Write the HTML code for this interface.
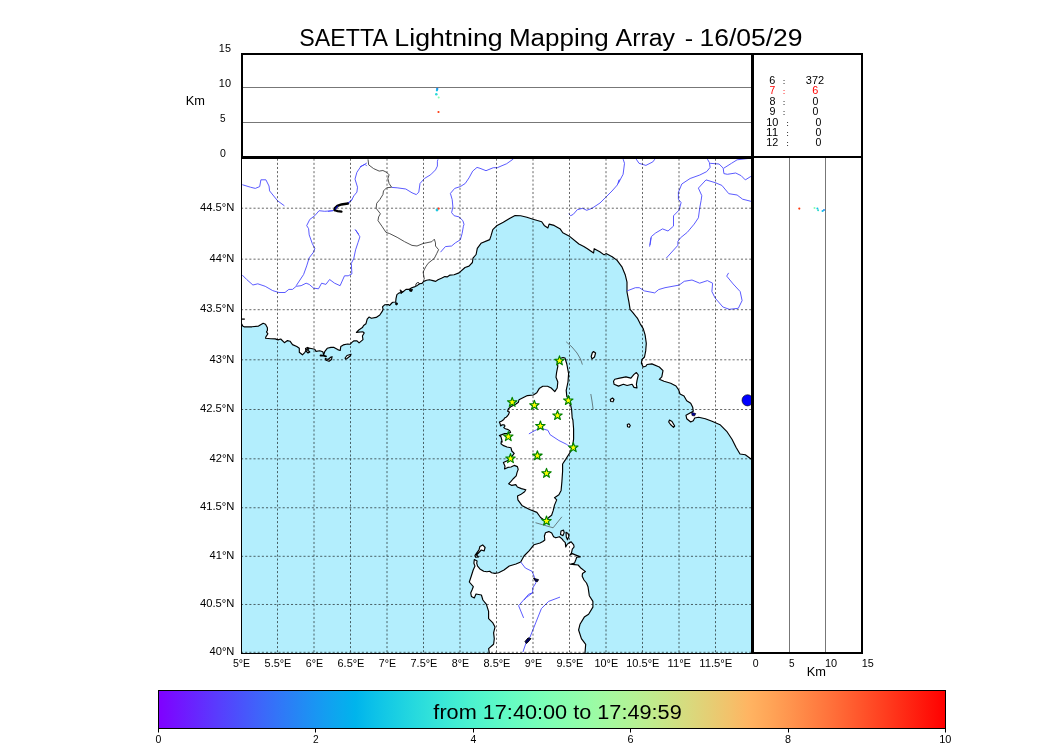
<!DOCTYPE html>
<html><head><meta charset="utf-8"><title>SAETTA Lightning Mapping Array</title>
<style>html,body{margin:0;padding:0;background:#fff;width:1050px;height:750px;overflow:hidden;font-family:"Liberation Sans", sans-serif}</style>
</head><body>
<svg width="1050" height="750" viewBox="0 0 1050 750" style="position:absolute;left:0;top:0;will-change:transform"><defs><linearGradient id="cb" x1="0" x2="1" y1="0" y2="0"><stop offset="0.000" stop-color="#8000ff"/><stop offset="0.025" stop-color="#7314ff"/><stop offset="0.050" stop-color="#6628fe"/><stop offset="0.075" stop-color="#593cfd"/><stop offset="0.100" stop-color="#4c4ffc"/><stop offset="0.125" stop-color="#4062fa"/><stop offset="0.150" stop-color="#3374f8"/><stop offset="0.175" stop-color="#2685f5"/><stop offset="0.200" stop-color="#1996f3"/><stop offset="0.225" stop-color="#0da6ef"/><stop offset="0.250" stop-color="#00b4ec"/><stop offset="0.275" stop-color="#0dc2e8"/><stop offset="0.300" stop-color="#19cee3"/><stop offset="0.325" stop-color="#26d9de"/><stop offset="0.350" stop-color="#33e3d9"/><stop offset="0.375" stop-color="#40ecd4"/><stop offset="0.400" stop-color="#4df3ce"/><stop offset="0.425" stop-color="#59f8c8"/><stop offset="0.450" stop-color="#66fcc2"/><stop offset="0.475" stop-color="#73febb"/><stop offset="0.500" stop-color="#80ffb4"/><stop offset="0.525" stop-color="#8cfead"/><stop offset="0.550" stop-color="#99fca6"/><stop offset="0.575" stop-color="#a6f89e"/><stop offset="0.600" stop-color="#b2f396"/><stop offset="0.625" stop-color="#bfec8e"/><stop offset="0.650" stop-color="#cce385"/><stop offset="0.675" stop-color="#d9d97d"/><stop offset="0.700" stop-color="#e5ce74"/><stop offset="0.725" stop-color="#f2c26b"/><stop offset="0.750" stop-color="#ffb462"/><stop offset="0.775" stop-color="#ffa658"/><stop offset="0.800" stop-color="#ff964f"/><stop offset="0.825" stop-color="#ff8545"/><stop offset="0.850" stop-color="#ff743c"/><stop offset="0.875" stop-color="#ff6232"/><stop offset="0.900" stop-color="#ff4f28"/><stop offset="0.925" stop-color="#ff3c1e"/><stop offset="0.950" stop-color="#ff2814"/><stop offset="0.975" stop-color="#ff140a"/><stop offset="1.000" stop-color="#ff0000"/></linearGradient><clipPath id="mc"><rect x="242" y="158" width="509" height="495"/></clipPath></defs><g clip-path="url(#mc)"><rect x="241" y="157" width="511" height="497" fill="#b3eefd"/><polygon points="241.0,324.0 241.7,324.0 242.7,326.1 244.1,326.8 252.0,326.8 258.5,326.1 263.2,323.3 265.5,324.2 267.4,327.7 267.4,330.5 266.5,331.9 267.9,333.8 266.0,336.6 265.5,338.2 270.7,338.7 275.3,338.9 278.0,339.9 280.7,339.0 284.4,342.7 287.5,340.6 290.0,341.2 292.5,344.6 296.8,346.5 299.3,348.3 299.3,352.3 302.4,354.8 304.9,352.3 306.7,349.2 308.6,348.0 314.8,349.2 316.0,351.4 319.7,350.8 322.8,351.7 323.7,354.8 324.7,351.7 327.2,348.3 330.9,347.4 334.0,347.4 337.7,349.6 340.2,350.5 340.8,346.5 343.3,344.9 347.6,344.0 350.1,344.3 351.9,342.4 354.0,340.8 357.0,340.8 359.1,342.9 363.0,339.6 362.4,336.0 364.2,333.0 363.0,331.8 356.4,332.4 358.8,330.0 362.4,327.6 363.6,325.5 366.0,323.7 367.2,319.2 369.0,317.1 371.4,318.3 376.2,317.4 379.8,315.0 382.2,311.4 383.1,309.3 382.5,306.9 384.6,304.8 388.2,304.5 389.7,305.4 391.8,303.0 392.9,302.3 395.7,302.0 396.0,298.6 396.9,294.6 399.1,292.9 401.4,292.9 403.1,291.7 406.0,289.4 408.9,289.4 411.7,287.7 415.1,286.6 417.4,285.4 419.7,283.7 422.0,283.4 423.7,281.4 426.6,280.3 429.4,279.7 432.9,280.6 435.7,281.4 438.0,279.7 441.4,278.3 444.9,276.6 447.1,276.9 450.0,275.1 454.1,274.8 459.0,272.9 465.0,267.5 469.0,266.1 472.4,262.5 473.0,258.2 476.1,254.5 477.3,248.3 481.0,243.3 489.7,239.6 491.0,235.9 492.8,229.7 497.1,225.4 503.3,222.3 509.5,218.6 515.1,215.5 520.7,215.8 526.9,217.3 533.0,219.2 541.7,221.7 544.2,225.4 547.9,227.9 549.1,224.1 554.1,225.4 560.3,229.1 562.8,232.8 569.0,235.9 578.9,244.0 583.8,246.4 587.4,248.7 593.6,253.0 594.2,248.7 599.8,251.8 604.1,254.9 606.0,253.6 612.2,256.7 617.1,260.4 622.1,267.2 625.2,274.7 627.0,282.1 627.0,292.0 628.9,301.9 630.1,309.3 633.3,313.1 637.7,318.7 640.1,323.6 643.2,328.6 645.1,334.8 646.3,343.4 645.7,350.9 644.5,357.0 642.0,359.5 641.4,363.2 643.2,367.0 645.7,366.3 647.0,364.5 651.9,363.9 659.3,367.0 663.0,370.7 661.8,376.9 659.3,379.3 664.0,381.3 670.7,383.3 676.0,386.0 678.7,390.0 680.0,394.0 684.0,396.0 686.7,400.7 690.7,403.3 692.7,407.3 693.3,411.3 690.0,413.0 686.0,415.3 686.7,418.7 690.7,422.0 693.3,420.7 694.7,418.0 698.7,417.3 705.3,418.7 712.0,421.3 720.0,424.7 726.7,431.3 732.0,439.3 736.0,447.3 740.0,454.0 745.3,454.7 750.7,458.7 752.0,460.0 752.0,157.0 241.0,157.0" fill="#fff"/><polygon points="565.0,358.0 566.8,364.0 568.6,373.6 568.0,382.0 566.2,390.4 566.8,396.4 569.8,401.2 571.6,409.6 572.2,418.0 572.9,420.0 573.6,428.8 573.6,439.1 572.1,449.3 569.2,453.7 565.5,459.6 562.6,464.0 562.6,471.3 561.9,481.6 561.1,490.4 558.9,494.8 554.5,497.7 556.7,499.9 554.5,505.1 553.1,510.9 551.6,515.3 548.7,517.5 545.7,521.2 540.6,517.5 536.9,512.4 529.6,509.5 522.3,505.8 517.9,499.9 517.5,496.0 520.6,494.6 524.6,491.8 525.8,489.8 521.4,488.6 517.4,487.0 515.8,484.6 511.8,485.4 508.6,483.8 511.0,481.4 513.0,479.0 516.2,475.8 517.0,472.6 518.2,469.4 517.4,466.6 514.2,465.4 511.0,467.0 507.8,467.4 504.6,469.0 505.0,466.2 503.4,462.6 507.8,460.6 510.6,458.2 514.2,453.4 511.8,451.0 511.0,447.8 507.0,447.0 503.0,445.4 501.0,443.8 501.4,441.0 502.2,442.0 501.8,440.0 501.0,436.8 499.4,435.6 504.6,433.6 507.5,433.5 510.6,432.4 509.8,430.8 508.2,429.6 505.4,428.8 503.8,427.6 505.0,426.0 504.2,424.8 502.2,424.8 500.6,426.0 500.2,424.0 499.4,422.0 501.4,421.2 503.8,419.6 504.6,418.0 506.2,417.2 507.4,416.0 508.6,414.4 509.4,412.0 507.6,411.2 508.5,408.8 511.2,406.4 516.0,404.0 518.4,402.2 519.0,399.8 524.4,397.1 527.4,395.6 533.4,395.0 536.8,392.8 539.2,388.6 542.8,386.2 547.6,386.2 551.2,388.0 554.8,391.6 557.2,388.0 557.8,382.0 556.0,377.2 556.6,372.4 557.8,366.4 557.2,361.6 560.0,358.5 563.0,357.5" fill="#fff" stroke="#000" stroke-width="1.15" stroke-linejoin="round"/><polygon points="489.3,653.5 489.3,652.9 488.6,648.6 493.6,644.3 494.3,638.6 493.6,632.9 495.0,627.1 492.9,622.9 488.6,618.6 488.6,611.4 486.4,604.3 482.9,600.0 481.4,595.0 476.0,594.0 474.3,597.9 471.4,596.4 470.7,592.9 472.0,590.0 473.3,586.7 469.3,582.0 471.3,576.0 473.2,570.0 475.0,566.1 473.9,563.3 474.3,559.6 477.1,561.0 476.7,563.3 477.6,566.1 479.9,568.9 483.7,571.3 486.9,571.7 489.7,571.3 491.6,572.7 494.9,573.4 498.6,572.7 504.0,570.0 509.3,566.0 516.0,564.0 520.7,562.0 524.0,556.0 529.3,550.7 534.0,544.7 540.0,543.0 542.9,541.5 544.8,540.0 544.4,536.0 545.5,532.7 548.8,531.6 551.7,533.1 553.6,536.7 555.8,537.8 559.4,536.7 562.0,538.9 563.5,540.8 565.3,542.6 565.7,547.0 567.1,544.4 569.3,542.6 571.2,541.9 573.7,544.8 574.1,547.0 572.3,549.2 571.5,552.9 570.1,555.1 572.3,553.6 575.9,555.1 580.3,556.9 576.7,557.3 575.9,559.5 574.5,563.1 570.1,564.2 574.5,564.6 578.1,565.0 581.1,568.3 585.5,571.6 582.5,573.4 582.2,576.3 584.0,580.0 586.5,583.0 588.0,586.7 589.3,595.7 592.9,601.4 592.9,607.1 588.6,614.3 584.3,617.1 580.0,624.3 578.6,630.0 581.4,638.6 585.7,644.3 585.0,652.9 585.0,653.5" fill="#fff" stroke="#000" stroke-width="1.15" stroke-linejoin="round"/><polygon points="479.9,546.5 482.7,544.9 485.1,547.5 484.1,551.0 481.3,550.0 476.5,555.0 478.5,557.0 475.7,557.3 475.0,555.4 479.0,549.8" fill="#fff" stroke="#000" stroke-width="1.15" stroke-linejoin="round"/><polygon points="614.8,379.3 619.7,378.1 625.9,376.9 630.9,378.1 634.0,374.4 636.4,372.5 638.3,375.0 637.0,380.6 636.4,384.3 637.0,388.0 634.0,387.4 632.1,384.3 627.1,385.5 623.4,384.3 618.5,386.1 614.1,384.3 613.5,381.2" fill="#fff" stroke="#000" stroke-width="1.15" stroke-linejoin="round"/><polygon points="593.5,351.5 595.6,353.0 594.5,357.0 592.0,358.9 591.2,356.5 592.2,353.0" fill="#fff" stroke="#000" stroke-width="1.15" stroke-linejoin="round"/><polygon points="669.5,420.0 672.0,421.5 674.7,426.0 673.5,427.3 670.5,424.5 668.7,422.0" fill="#fff" stroke="#000" stroke-width="1.15" stroke-linejoin="round"/><polygon points="325.3,358.5 328.0,359.5 331.0,357.0 332.1,356.7 331.5,359.5 329.0,361.3 326.0,360.3" fill="#fff" stroke="#000" stroke-width="1.15" stroke-linejoin="round"/><polygon points="345.1,358.0 347.0,355.5 351.0,354.2 350.5,355.8 347.0,358.5 345.5,359.1" fill="#fff" stroke="#000" stroke-width="1.15" stroke-linejoin="round"/><polygon points="305.5,348.5 307.5,347.4 309.0,348.5 307.5,350.0 309.8,352.0 308.0,353.0 306.0,351.0" fill="#fff" stroke="#000" stroke-width="1.15" stroke-linejoin="round"/><polygon points="561.0,531.0 563.5,530.1 564.2,532.5 563.0,535.6 560.5,534.5" fill="#fff" stroke="#000" stroke-width="1.15" stroke-linejoin="round"/><polygon points="566.0,532.3 568.0,533.5 569.0,536.0 567.5,539.7 566.3,537.0" fill="#fff" stroke="#000" stroke-width="1.15" stroke-linejoin="round"/><polygon points="610.3,399.5 612.5,398.0 614.0,399.5 613.0,401.8 610.8,401.5" fill="#fff" stroke="#000" stroke-width="1.15" stroke-linejoin="round"/><polygon points="627.3,424.5 629.0,423.8 630.3,425.5 629.3,427.3 627.5,426.8" fill="#fff" stroke="#000" stroke-width="1.15" stroke-linejoin="round"/><polyline points="241.0,324.0 241.7,324.0 242.7,326.1 244.1,326.8 252.0,326.8 258.5,326.1 263.2,323.3 265.5,324.2 267.4,327.7 267.4,330.5 266.5,331.9 267.9,333.8 266.0,336.6 265.5,338.2 270.7,338.7 275.3,338.9 278.0,339.9 280.7,339.0 284.4,342.7 287.5,340.6 290.0,341.2 292.5,344.6 296.8,346.5 299.3,348.3 299.3,352.3 302.4,354.8 304.9,352.3 306.7,349.2 308.6,348.0 314.8,349.2 316.0,351.4 319.7,350.8 322.8,351.7 323.7,354.8 324.7,351.7 327.2,348.3 330.9,347.4 334.0,347.4 337.7,349.6 340.2,350.5 340.8,346.5 343.3,344.9 347.6,344.0 350.1,344.3 351.9,342.4 354.0,340.8 357.0,340.8 359.1,342.9 363.0,339.6 362.4,336.0 364.2,333.0 363.0,331.8 356.4,332.4 358.8,330.0 362.4,327.6 363.6,325.5 366.0,323.7 367.2,319.2 369.0,317.1 371.4,318.3 376.2,317.4 379.8,315.0 382.2,311.4 383.1,309.3 382.5,306.9 384.6,304.8 388.2,304.5 389.7,305.4 391.8,303.0 392.9,302.3 395.7,302.0 396.0,298.6 396.9,294.6 399.1,292.9 401.4,292.9 403.1,291.7 406.0,289.4 408.9,289.4 411.7,287.7 415.1,286.6 417.4,285.4 419.7,283.7 422.0,283.4 423.7,281.4 426.6,280.3 429.4,279.7 432.9,280.6 435.7,281.4 438.0,279.7 441.4,278.3 444.9,276.6 447.1,276.9 450.0,275.1 454.1,274.8 459.0,272.9 465.0,267.5 469.0,266.1 472.4,262.5 473.0,258.2 476.1,254.5 477.3,248.3 481.0,243.3 489.7,239.6 491.0,235.9 492.8,229.7 497.1,225.4 503.3,222.3 509.5,218.6 515.1,215.5 520.7,215.8 526.9,217.3 533.0,219.2 541.7,221.7 544.2,225.4 547.9,227.9 549.1,224.1 554.1,225.4 560.3,229.1 562.8,232.8 569.0,235.9 578.9,244.0 583.8,246.4 587.4,248.7 593.6,253.0 594.2,248.7 599.8,251.8 604.1,254.9 606.0,253.6 612.2,256.7 617.1,260.4 622.1,267.2 625.2,274.7 627.0,282.1 627.0,292.0 628.9,301.9 630.1,309.3 633.3,313.1 637.7,318.7 640.1,323.6 643.2,328.6 645.1,334.8 646.3,343.4 645.7,350.9 644.5,357.0 642.0,359.5 641.4,363.2 643.2,367.0 645.7,366.3 647.0,364.5 651.9,363.9 659.3,367.0 663.0,370.7 661.8,376.9 659.3,379.3 664.0,381.3 670.7,383.3 676.0,386.0 678.7,390.0 680.0,394.0 684.0,396.0 686.7,400.7 690.7,403.3 692.7,407.3 693.3,411.3 690.0,413.0 686.0,415.3 686.7,418.7 690.7,422.0 693.3,420.7 694.7,418.0 698.7,417.3 705.3,418.7 712.0,421.3 720.0,424.7 726.7,431.3 732.0,439.3 736.0,447.3 740.0,454.0 745.3,454.7 750.7,458.7 752.0,460.0" fill="none" stroke="#000" stroke-width="1.15" stroke-linejoin="round"/><polyline points="242.3,184.7 250.4,187.2 255.3,188.4 259.7,186.6 260.9,179.8 265.9,179.8 269.0,186.0 269.6,190.9 277.6,200.8 284.4,205.8" fill="none" stroke="#4848ff" stroke-width="0.9" stroke-linejoin="round"/><polyline points="366.8,163.0 360.6,166.8 356.9,172.3 355.0,179.1 357.5,187.2 356.9,192.1 353.8,195.9 351.3,200.8 347.0,203.3" fill="none" stroke="#4848ff" stroke-width="0.9" stroke-linejoin="round"/><polyline points="333.3,210.7 324.7,211.3 319.1,210.7 314.8,215.7 309.8,219.4 306.7,225.6 308.6,228.7 309.2,234.9 312.3,243.6 314.8,248.5 313.5,252.2 309.2,257.8 306.7,265.9 303.6,274.5 296.2,285.7" fill="none" stroke="#4848ff" stroke-width="0.9" stroke-linejoin="round"/><polyline points="242.3,275.1 246.7,279.5 252.9,285.0 257.8,283.8 265.2,286.3 272.7,290.6 278.9,292.5 285.0,292.5 288.8,289.4 292.5,289.4 296.2,286.3 301.1,285.7 306.1,283.2 309.2,284.4 313.5,288.1 318.5,288.8 321.6,283.2 325.9,284.4 329.6,279.5 334.6,283.2 340.1,285.7 344.5,275.8 348.2,275.8 351.9,273.9 351.3,263.4 353.8,258.4 355.6,249.8 358.1,242.3 359.9,236.8 355.6,230.0" fill="none" stroke="#4848ff" stroke-width="0.9" stroke-linejoin="round"/><polyline points="360.0,166.8 365.0,164.3 366.8,166.1" fill="none" stroke="#4848ff" stroke-width="0.9" stroke-linejoin="round"/><polyline points="391.6,187.4 397.1,187.8 405.8,189.0 412.0,192.8 416.3,194.6 418.8,192.1 420.0,183.5 424.4,178.5 430.6,174.8 435.5,169.9 437.4,166.1 437.4,161.2 438.0,159.3" fill="none" stroke="#4848ff" stroke-width="0.9" stroke-linejoin="round"/><polyline points="513.3,159.0 506.7,163.7 497.3,167.7 493.3,167.7 486.0,170.7 480.0,168.3 477.0,167.4 472.7,171.1 469.0,177.9 465.2,183.5 460.3,186.6 454.7,188.4 450.4,193.4 452.2,199.6 452.9,207.0 451.6,212.6 454.1,215.7 459.0,216.9 462.8,220.6 464.0,224.3 463.4,226.2 462.1,233.6 460.3,239.8 455.3,242.9 451.6,246.0 445.4,246.6 440.5,252.2" fill="none" stroke="#4848ff" stroke-width="0.9" stroke-linejoin="round"/><polyline points="568.7,213.7 570.7,215.7 573.3,214.3 577.3,209.7 582.7,208.3 586.7,210.3 592.0,208.3 600.0,203.0 605.3,197.7 612.0,191.0 617.3,185.0 619.3,179.7 618.3,183.3 623.1,174.3 624.5,163.3 623.1,159.1" fill="none" stroke="#4848ff" stroke-width="0.9" stroke-linejoin="round"/><polyline points="636.2,159.1 639.0,163.3 645.9,165.4 652.8,161.9 654.9,159.1" fill="none" stroke="#4848ff" stroke-width="0.9" stroke-linejoin="round"/><polyline points="650.0,245.0 651.4,236.5 655.6,233.0 662.5,228.9 668.0,231.0 673.5,226.1 673.5,215.8 679.0,210.2 681.1,202.6 678.4,199.2 678.4,192.3 681.8,184.0 690.1,178.5 699.8,175.0 706.7,171.6 710.1,167.4 709.4,162.6 707.4,159.1" fill="none" stroke="#4848ff" stroke-width="0.9" stroke-linejoin="round"/><polyline points="666.3,258.1 677.9,245.3 677.9,241.4 680.4,237.9 687.3,232.3 694.2,224.1 698.4,217.8 699.8,207.5 701.1,200.6 701.8,195.7 698.4,188.1 706.0,179.9 715.0,182.6 721.9,185.4 728.8,193.7 737.1,195.0 742.6,199.2 750.9,201.3" fill="none" stroke="#4848ff" stroke-width="0.9" stroke-linejoin="round"/><polyline points="710.1,163.3 719.1,164.0 723.2,168.1 723.9,173.6 727.4,174.3 735.7,173.0 741.2,175.7 745.3,179.9 750.9,176.4" fill="none" stroke="#4848ff" stroke-width="0.9" stroke-linejoin="round"/><polyline points="723.9,168.1 731.5,163.3 737.1,159.8 748.1,158.5" fill="none" stroke="#4848ff" stroke-width="0.9" stroke-linejoin="round"/><polyline points="649.6,246.6 650.9,237.6" fill="none" stroke="#4848ff" stroke-width="0.9" stroke-linejoin="round"/><polyline points="627.1,290.9 635.4,287.7 639.3,287.7 644.4,290.9 654.7,292.9 658.6,289.6 665.0,287.7 679.1,285.1 684.3,281.3 692.0,280.0 699.7,283.2 707.4,280.6 712.6,283.2 711.9,291.6 715.1,298.0 722.9,307.0 729.3,309.3 738.3,308.3 742.1,300.6 740.2,291.6 733.1,283.9 726.7,276.1 728.6,272.9" fill="none" stroke="#4848ff" stroke-width="0.9" stroke-linejoin="round"/><polyline points="355.0,229.3 358.7,234.2" fill="none" stroke="#4848ff" stroke-width="0.9" stroke-linejoin="round"/><polyline points="528.9,433.9 534.0,431.0 539.9,428.1 547.9,430.3 550.1,434.7 558.9,440.5 566.3,444.2 571.4,447.9" fill="none" stroke="#4848ff" stroke-width="0.9" stroke-linejoin="round"/><polyline points="520.7,562.0 525.3,568.0 532.0,571.3 534.0,576.0 536.0,582.7 532.7,588.0 532.7,592.7 528.6,594.3 518.6,605.7 523.6,617.9" fill="none" stroke="#4848ff" stroke-width="0.9" stroke-linejoin="round"/><polyline points="532.7,592.7 526.7,597.3 524.0,600.0" fill="none" stroke="#4848ff" stroke-width="0.9" stroke-linejoin="round"/><polyline points="560.0,597.1 548.6,601.4 541.4,608.6 535.7,622.9 530.0,637.1 527.0,640.0 522.9,652.1" fill="none" stroke="#4848ff" stroke-width="0.9" stroke-linejoin="round"/><polyline points="368.0,159.3 368.7,164.9 373.6,168.6 379.2,171.1 382.9,170.5 386.6,172.3 389.1,174.8 387.9,178.5 389.1,183.5 391.6,187.2 386.6,187.8 383.5,190.9 382.9,194.6 379.8,199.6 376.7,203.3 376.1,208.2 380.4,213.8 378.6,216.9 378.0,220.6 382.3,226.8 386.0,232.4 389.7,233.6 397.1,237.3 404.6,241.7 412.0,245.4 417.0,246.0 423.1,243.5 431.8,241.7 434.3,239.2 435.5,242.9 435.5,246.0 438.6,249.7 436.8,253.4 434.3,258.4 428.1,263.3 425.6,267.0 423.1,272.0 424.4,279.4" fill="none" stroke="#333" stroke-width="0.85" stroke-linejoin="round"/><polyline points="566.2,341.8 572.0,347.0 577.0,353.0 580.5,359.0 582.4,364.6" fill="none" stroke="#333" stroke-width="0.6"/><polyline points="590.8,394.0 592.0,401.0 593.2,409.6" fill="none" stroke="#333" stroke-width="0.6"/><polyline points="535.5,522.7 553.1,527.8 561.9,516.8" fill="none" stroke="#333" stroke-width="0.6"/><polyline points="241.5,319.1 244.8,319.1" fill="none" stroke="#000" stroke-width="1.3"/><polyline points="320.6,355.5 323.5,355.6 326,356.3" fill="none" stroke="#000" stroke-width="1.9" stroke-linecap="round"/><path d="M400,289.8 L401.2,293.4 L402.8,291.8 Z" fill="#000" stroke="#000" stroke-width="0.8"/><path d="M409.2,289.6 L412.5,289.2 L411.8,291.4 L409.8,291.2 Z" fill="#000" stroke="#000" stroke-width="0.8"/><path d="M395.6,302.5 L397.6,303.2 L397,305 L395.6,304.6 Z" fill="#000" stroke="#000" stroke-width="0.8"/><path d="M415.8,285.8 C415.6,283.5 417.2,282.2 418.6,282.6 C419.6,283 419.2,284.2 418.4,284.6" fill="none" stroke="#000" stroke-width="0.9"/><polyline points="348,203.5 341.4,204.4 337.5,205.8 335.2,208 334.6,210" fill="none" stroke="#000" stroke-width="2.6" stroke-linecap="round"/><polyline points="334.8,210.2 337.6,211.1 341.5,211.6" fill="none" stroke="#000" stroke-width="2.2" stroke-linecap="round"/><polyline points="335.5,209.5 336.5,207 338,206" fill="none" stroke="#0000ff" stroke-width="0.9"/><polyline points="328,211.4 333.3,210.5" fill="none" stroke="#4848ff" stroke-width="0.9"/><polyline points="348.4,203.3 352,199.4" fill="none" stroke="#4848ff" stroke-width="0.9"/><ellipse cx="747.5" cy="400.3" rx="5.5" ry="5.6" fill="#0000ff" stroke="#000" stroke-width="0.6"/><path d="M691.5,412.2 L695.8,413.6 L694.5,416 L692,415.5 Z" fill="#0000a0" stroke="#000" stroke-width="0.6"/><path d="M533.5,578.2 L536,579 L538.5,579.6 L537.5,581.6 L535.5,581.2 Z" fill="#000060" stroke="#000" stroke-width="0.9"/><path d="M525,641.5 L528,637.9 L531,638.5 L529.5,640.5 L526.5,643.6 Z" fill="#000060" stroke="#000" stroke-width="0.9"/><g stroke="#000" stroke-width="0.6" stroke-dasharray="2.083,2.083"><line x1="277.5" y1="652.3" x2="277.5" y2="157.5" /><line x1="314.0" y1="652.3" x2="314.0" y2="157.5" /><line x1="350.5" y1="652.3" x2="350.5" y2="157.5" /><line x1="387.0" y1="652.3" x2="387.0" y2="157.5" /><line x1="423.5" y1="652.3" x2="423.5" y2="157.5" /><line x1="460.0" y1="652.3" x2="460.0" y2="157.5" /><line x1="496.5" y1="652.3" x2="496.5" y2="157.5" /><line x1="533.0" y1="652.3" x2="533.0" y2="157.5" /><line x1="569.5" y1="652.3" x2="569.5" y2="157.5" /><line x1="606.0" y1="652.3" x2="606.0" y2="157.5" /><line x1="642.5" y1="652.3" x2="642.5" y2="157.5" /><line x1="679.0" y1="652.3" x2="679.0" y2="157.5" /><line x1="715.5" y1="652.3" x2="715.5" y2="157.5" /><line x1="241" y1="652.3" x2="752" y2="652.3" /><line x1="241" y1="604.48" x2="752" y2="604.48" /><line x1="241" y1="556.3" x2="752" y2="556.3" /><line x1="241" y1="507.75" x2="752" y2="507.75" /><line x1="241" y1="458.82" x2="752" y2="458.82" /><line x1="241" y1="409.51" x2="752" y2="409.51" /><line x1="241" y1="359.81" x2="752" y2="359.81" /><line x1="241" y1="309.69" x2="752" y2="309.69" /><line x1="241" y1="259.17" x2="752" y2="259.17" /><line x1="241" y1="208.21" x2="752" y2="208.21" /></g><circle cx="437" cy="210" r="1.4" fill="#20c8e0"/><circle cx="438.7" cy="208.6" r="1.1" fill="#ff4020"/><path d="M559.50,355.85 L560.68,359.18 L564.21,359.27 L561.40,361.42 L562.41,364.80 L559.50,362.80 L556.59,364.80 L557.60,361.42 L554.79,359.27 L558.32,359.18Z" fill="#ffff00" stroke="#008000" stroke-width="1.15" stroke-linejoin="round"/><path d="M512.20,397.35 L513.38,400.68 L516.91,400.77 L514.10,402.92 L515.11,406.30 L512.20,404.30 L509.29,406.30 L510.30,402.92 L507.49,400.77 L511.02,400.68Z" fill="#ffff00" stroke="#008000" stroke-width="1.15" stroke-linejoin="round"/><path d="M534.40,400.35 L535.58,403.68 L539.11,403.77 L536.30,405.92 L537.31,409.30 L534.40,407.30 L531.49,409.30 L532.50,405.92 L529.69,403.77 L533.22,403.68Z" fill="#ffff00" stroke="#008000" stroke-width="1.15" stroke-linejoin="round"/><path d="M568.30,395.55 L569.48,398.88 L573.01,398.97 L570.20,401.12 L571.21,404.50 L568.30,402.50 L565.39,404.50 L566.40,401.12 L563.59,398.97 L567.12,398.88Z" fill="#ffff00" stroke="#008000" stroke-width="1.15" stroke-linejoin="round"/><path d="M557.50,410.55 L558.68,413.88 L562.21,413.97 L559.40,416.12 L560.41,419.50 L557.50,417.50 L554.59,419.50 L555.60,416.12 L552.79,413.97 L556.32,413.88Z" fill="#ffff00" stroke="#008000" stroke-width="1.15" stroke-linejoin="round"/><path d="M540.40,421.05 L541.58,424.38 L545.11,424.47 L542.30,426.62 L543.31,430.00 L540.40,428.00 L537.49,430.00 L538.50,426.62 L535.69,424.47 L539.22,424.38Z" fill="#ffff00" stroke="#008000" stroke-width="1.15" stroke-linejoin="round"/><path d="M508.30,431.65 L509.48,434.98 L513.01,435.07 L510.20,437.22 L511.21,440.60 L508.30,438.60 L505.39,440.60 L506.40,437.22 L503.59,435.07 L507.12,434.98Z" fill="#ffff00" stroke="#008000" stroke-width="1.15" stroke-linejoin="round"/><path d="M573.30,442.65 L574.48,445.98 L578.01,446.07 L575.20,448.22 L576.21,451.60 L573.30,449.60 L570.39,451.60 L571.40,448.22 L568.59,446.07 L572.12,445.98Z" fill="#ffff00" stroke="#008000" stroke-width="1.15" stroke-linejoin="round"/><path d="M537.40,450.75 L538.58,454.08 L542.11,454.17 L539.30,456.32 L540.31,459.70 L537.40,457.70 L534.49,459.70 L535.50,456.32 L532.69,454.17 L536.22,454.08Z" fill="#ffff00" stroke="#008000" stroke-width="1.15" stroke-linejoin="round"/><path d="M510.50,453.65 L511.68,456.98 L515.21,457.07 L512.40,459.22 L513.41,462.60 L510.50,460.60 L507.59,462.60 L508.60,459.22 L505.79,457.07 L509.32,456.98Z" fill="#ffff00" stroke="#008000" stroke-width="1.15" stroke-linejoin="round"/><path d="M546.50,468.35 L547.68,471.68 L551.21,471.77 L548.40,473.92 L549.41,477.30 L546.50,475.30 L543.59,477.30 L544.60,473.92 L541.79,471.77 L545.32,471.68Z" fill="#ffff00" stroke="#008000" stroke-width="1.15" stroke-linejoin="round"/><path d="M546.50,516.05 L547.68,519.38 L551.21,519.47 L548.40,521.62 L549.41,525.00 L546.50,523.00 L543.59,525.00 L544.60,521.62 L541.79,519.47 L545.32,519.38Z" fill="#ffff00" stroke="#008000" stroke-width="1.15" stroke-linejoin="round"/></g><g fill="none" stroke="#000"><line x1="241.5" y1="157" x2="241.5" y2="654" stroke-width="1"/><line x1="241" y1="653.5" x2="752" y2="653.5" stroke-width="1"/><rect x="242" y="54" width="620" height="103" stroke-width="2"/><line x1="241" y1="158.5" x2="752" y2="158.5" stroke-width="1"/><line x1="752.5" y1="53" x2="752.5" y2="654" stroke-width="3"/><rect x="753" y="157" width="109" height="496" stroke-width="2"/></g><line x1="243" y1="87.5" x2="751" y2="87.5" stroke="#777" stroke-width="1"/><line x1="243" y1="122.5" x2="751" y2="122.5" stroke="#777" stroke-width="1"/><line x1="789.5" y1="158" x2="789.5" y2="652" stroke="#777" stroke-width="1"/><line x1="825.5" y1="158" x2="825.5" y2="652" stroke="#777" stroke-width="1"/><circle cx="437.2" cy="89" r="1.2" fill="#2090f0"/><circle cx="436.9" cy="90.3" r="1.1" fill="#10c0e8"/><circle cx="436.3" cy="94.3" r="1.3" fill="#30d8d8"/><circle cx="438.7" cy="97.5" r="1" fill="#80ffb0"/><circle cx="438.5" cy="112" r="1.1" fill="#ff3a10"/><circle cx="799.3" cy="208.6" r="1.1" fill="#ff3a10"/><circle cx="814.5" cy="208.1" r="1" fill="#80ffb0"/><circle cx="817.4" cy="208.6" r="1" fill="#10c0e8"/><circle cx="818.1" cy="210.2" r="1" fill="#30d8c8"/><circle cx="822.6" cy="211" r="1.1" fill="#10c0e8"/><circle cx="824" cy="210" r="1" fill="#2090f0"/><rect x="158.5" y="690.5" width="787" height="38" fill="url(#cb)" stroke="#000" stroke-width="1"/><line x1="158.5" y1="729" x2="158.5" y2="732.5" stroke="#000" stroke-width="1"/><line x1="315.5" y1="729" x2="315.5" y2="732.5" stroke="#000" stroke-width="1"/><line x1="473.5" y1="729" x2="473.5" y2="732.5" stroke="#000" stroke-width="1"/><line x1="630.5" y1="729" x2="630.5" y2="732.5" stroke="#000" stroke-width="1"/><line x1="788.5" y1="729" x2="788.5" y2="732.5" stroke="#000" stroke-width="1"/><line x1="945.5" y1="729" x2="945.5" y2="732.5" stroke="#000" stroke-width="1"/><g font-family='"Liberation Sans", sans-serif'><text x="299.36" y="46.30" font-size="24.29" fill="#000" textLength="88.56" lengthAdjust="spacingAndGlyphs">SAETTA</text><text x="394.36" y="46.30" font-size="24.29" fill="#000" textLength="108.35" lengthAdjust="spacingAndGlyphs">Lightning</text><text x="508.92" y="46.30" font-size="24.29" fill="#000" textLength="99.70" lengthAdjust="spacingAndGlyphs">Mapping</text><text x="615.60" y="46.30" font-size="24.29" fill="#000" textLength="59.38" lengthAdjust="spacingAndGlyphs">Array</text><text x="684.86" y="46.30" font-size="22.97" fill="#000" textLength="8.43" lengthAdjust="spacingAndGlyphs">-</text><text x="699.51" y="46.30" font-size="24.29" fill="#000" textLength="103.05" lengthAdjust="spacingAndGlyphs">16/05/29</text><text x="218.89" y="52.00" font-size="10.43" fill="#000" textLength="12.02" lengthAdjust="spacingAndGlyphs">15</text><text x="218.88" y="87.10" font-size="10.57" fill="#000" textLength="12.18" lengthAdjust="spacingAndGlyphs">10</text><text x="219.90" y="122.00" font-size="10.43" fill="#000" textLength="5.56" lengthAdjust="spacingAndGlyphs">5</text><text x="219.88" y="157.00" font-size="10.57" fill="#000" textLength="5.85" lengthAdjust="spacingAndGlyphs">0</text><text x="185.68" y="105.00" font-size="12.51" fill="#000" textLength="19.20" lengthAdjust="spacingAndGlyphs">Km</text><text x="806.78" y="676.00" font-size="12.51" fill="#000" textLength="19.20" lengthAdjust="spacingAndGlyphs">Km</text><text x="209.53" y="655.00" font-size="10.57" fill="#000" textLength="24.91" lengthAdjust="spacingAndGlyphs">40°N</text><text x="200.03" y="607.18" font-size="10.57" fill="#000" textLength="34.41" lengthAdjust="spacingAndGlyphs">40.5°N</text><text x="209.53" y="559.00" font-size="10.57" fill="#000" textLength="24.91" lengthAdjust="spacingAndGlyphs">41°N</text><text x="200.03" y="510.45" font-size="10.57" fill="#000" textLength="34.41" lengthAdjust="spacingAndGlyphs">41.5°N</text><text x="209.53" y="461.52" font-size="10.57" fill="#000" textLength="24.91" lengthAdjust="spacingAndGlyphs">42°N</text><text x="200.03" y="412.21" font-size="10.57" fill="#000" textLength="34.41" lengthAdjust="spacingAndGlyphs">42.5°N</text><text x="209.53" y="362.51" font-size="10.57" fill="#000" textLength="24.91" lengthAdjust="spacingAndGlyphs">43°N</text><text x="200.03" y="312.39" font-size="10.57" fill="#000" textLength="34.41" lengthAdjust="spacingAndGlyphs">43.5°N</text><text x="209.53" y="261.87" font-size="10.57" fill="#000" textLength="24.91" lengthAdjust="spacingAndGlyphs">44°N</text><text x="200.03" y="210.91" font-size="10.57" fill="#000" textLength="34.41" lengthAdjust="spacingAndGlyphs">44.5°N</text><text x="232.93" y="666.70" font-size="10.57" fill="#000" textLength="17.18" lengthAdjust="spacingAndGlyphs">5°E</text><text x="264.64" y="666.70" font-size="10.57" fill="#000" textLength="26.74" lengthAdjust="spacingAndGlyphs">5.5°E</text><text x="305.79" y="666.70" font-size="10.57" fill="#000" textLength="17.35" lengthAdjust="spacingAndGlyphs">6°E</text><text x="337.50" y="666.70" font-size="10.57" fill="#000" textLength="26.91" lengthAdjust="spacingAndGlyphs">6.5°E</text><text x="378.84" y="666.70" font-size="10.57" fill="#000" textLength="17.24" lengthAdjust="spacingAndGlyphs">7°E</text><text x="410.55" y="666.70" font-size="10.57" fill="#000" textLength="26.80" lengthAdjust="spacingAndGlyphs">7.5°E</text><text x="451.82" y="666.70" font-size="10.57" fill="#000" textLength="17.34" lengthAdjust="spacingAndGlyphs">8°E</text><text x="483.53" y="666.70" font-size="10.57" fill="#000" textLength="26.90" lengthAdjust="spacingAndGlyphs">8.5°E</text><text x="524.82" y="666.70" font-size="10.57" fill="#000" textLength="17.34" lengthAdjust="spacingAndGlyphs">9°E</text><text x="556.53" y="666.70" font-size="10.57" fill="#000" textLength="26.90" lengthAdjust="spacingAndGlyphs">9.5°E</text><text x="594.51" y="666.70" font-size="10.57" fill="#000" textLength="23.64" lengthAdjust="spacingAndGlyphs">10°E</text><text x="626.25" y="666.70" font-size="10.57" fill="#000" textLength="33.15" lengthAdjust="spacingAndGlyphs">10.5°E</text><text x="667.48" y="666.70" font-size="10.57" fill="#000" textLength="23.64" lengthAdjust="spacingAndGlyphs">11°E</text><text x="699.23" y="666.70" font-size="10.57" fill="#000" textLength="33.19" lengthAdjust="spacingAndGlyphs">11.5°E</text><text x="752.78" y="666.70" font-size="10.57" fill="#000" textLength="5.85" lengthAdjust="spacingAndGlyphs">0</text><text x="789.10" y="666.70" font-size="10.43" fill="#000" textLength="5.56" lengthAdjust="spacingAndGlyphs">5</text><text x="824.98" y="666.70" font-size="10.57" fill="#000" textLength="12.18" lengthAdjust="spacingAndGlyphs">10</text><text x="861.69" y="666.70" font-size="10.43" fill="#000" textLength="12.02" lengthAdjust="spacingAndGlyphs">15</text><text x="769.36" y="84.00" font-size="10.57" fill="#000" textLength="6.04" lengthAdjust="spacingAndGlyphs">6</text><text x="782.51" y="84.00" font-size="7.36" fill="#000" textLength="3.07" lengthAdjust="spacingAndGlyphs">:</text><text x="805.86" y="84.00" font-size="10.57" fill="#000" textLength="18.38" lengthAdjust="spacingAndGlyphs">372</text><text x="769.38" y="94.00" font-size="10.43" fill="#ff0000" textLength="5.75" lengthAdjust="spacingAndGlyphs">7</text><text x="782.51" y="94.00" font-size="7.36" fill="#ff0000" textLength="3.07" lengthAdjust="spacingAndGlyphs">:</text><text x="812.26" y="94.00" font-size="10.57" fill="#ff0000" textLength="6.04" lengthAdjust="spacingAndGlyphs">6</text><text x="769.42" y="104.80" font-size="10.57" fill="#000" textLength="5.98" lengthAdjust="spacingAndGlyphs">8</text><text x="782.51" y="104.80" font-size="7.36" fill="#000" textLength="3.07" lengthAdjust="spacingAndGlyphs">:</text><text x="812.38" y="104.80" font-size="10.57" fill="#000" textLength="5.85" lengthAdjust="spacingAndGlyphs">0</text><text x="769.42" y="115.00" font-size="10.57" fill="#000" textLength="5.98" lengthAdjust="spacingAndGlyphs">9</text><text x="782.51" y="115.00" font-size="7.36" fill="#000" textLength="3.07" lengthAdjust="spacingAndGlyphs">:</text><text x="812.38" y="115.00" font-size="10.57" fill="#000" textLength="5.85" lengthAdjust="spacingAndGlyphs">0</text><text x="766.18" y="125.70" font-size="10.57" fill="#000" textLength="12.18" lengthAdjust="spacingAndGlyphs">10</text><text x="786.01" y="125.70" font-size="7.36" fill="#000" textLength="3.07" lengthAdjust="spacingAndGlyphs">:</text><text x="815.48" y="125.70" font-size="10.57" fill="#000" textLength="5.85" lengthAdjust="spacingAndGlyphs">0</text><text x="766.12" y="136.00" font-size="10.43" fill="#000" textLength="12.14" lengthAdjust="spacingAndGlyphs">11</text><text x="786.01" y="136.00" font-size="7.36" fill="#000" textLength="3.07" lengthAdjust="spacingAndGlyphs">:</text><text x="815.48" y="136.00" font-size="10.57" fill="#000" textLength="5.85" lengthAdjust="spacingAndGlyphs">0</text><text x="766.19" y="145.80" font-size="10.57" fill="#000" textLength="11.97" lengthAdjust="spacingAndGlyphs">12</text><text x="786.01" y="145.80" font-size="7.36" fill="#000" textLength="3.07" lengthAdjust="spacingAndGlyphs">:</text><text x="815.48" y="145.80" font-size="10.57" fill="#000" textLength="5.85" lengthAdjust="spacingAndGlyphs">0</text><text x="155.55" y="742.60" font-size="10.57" fill="#000" textLength="5.85" lengthAdjust="spacingAndGlyphs">0</text><text x="313.09" y="742.60" font-size="10.57" fill="#000" textLength="5.62" lengthAdjust="spacingAndGlyphs">2</text><text x="470.44" y="742.60" font-size="10.43" fill="#000" textLength="5.84" lengthAdjust="spacingAndGlyphs">4</text><text x="627.63" y="742.60" font-size="10.57" fill="#000" textLength="6.04" lengthAdjust="spacingAndGlyphs">6</text><text x="785.09" y="742.60" font-size="10.57" fill="#000" textLength="5.98" lengthAdjust="spacingAndGlyphs">8</text><text x="939.20" y="742.60" font-size="10.57" fill="#000" textLength="12.18" lengthAdjust="spacingAndGlyphs">10</text><text x="433.37" y="718.90" font-size="19.86" fill="#000" textLength="248.36" lengthAdjust="spacingAndGlyphs">from 17:40:00 to 17:49:59</text></g></svg>
</body></html>
